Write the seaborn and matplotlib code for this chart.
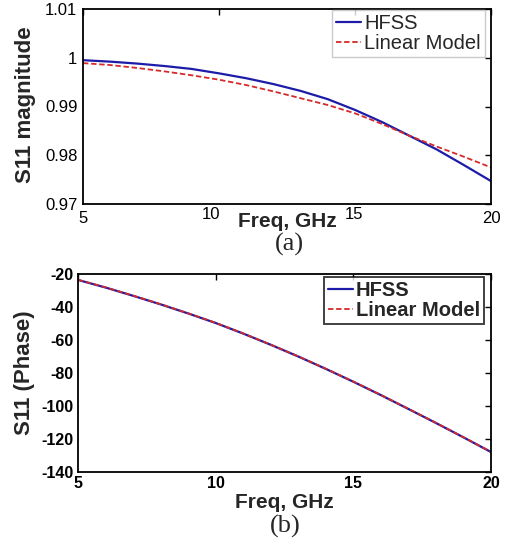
import matplotlib
matplotlib.use("Agg")
import matplotlib.pyplot as plt
import matplotlib.transforms as mtransforms
import seaborn as sns
import pandas as pd

# ---- data ----
freq_ghz = [5, 6, 7, 8, 9, 10, 11, 12, 13, 14, 15, 16, 17, 18, 19, 20]
mag_hfss = [0.9995, 0.9992, 0.9988, 0.9983, 0.9977, 0.9968, 0.9958, 0.9946,
            0.9932, 0.9915, 0.9893, 0.9868, 0.9840, 0.9812, 0.9780, 0.9747]
mag_linear = [0.9989, 0.9985, 0.9979, 0.9972, 0.9964, 0.9955, 0.9944, 0.9931,
              0.9917, 0.9903, 0.9886, 0.9864, 0.9840, 0.9818, 0.9797, 0.9775]
phase_hfss = [-23.6, -28.2, -33.2, -38.4, -43.9, -49.7, -56.1, -62.9,
              -70.0, -77.5, -85.3, -93.4, -101.8, -110.3, -119.0, -127.9]
phase_linear = [-23.5, -28.1, -33.1, -38.3, -43.8, -49.6, -56.0, -62.8,
                -69.9, -77.4, -85.2, -93.3, -101.7, -110.2, -118.9, -127.8]
series_names = ["HFSS", "Linear Model"]
mag_ticks = [0.97, 0.98, 0.99, 1.00, 1.01]
mag_ticklabels = ["0.97", "0.98", "0.99", "1", "1.01"]
phase_ticks = [-140, -120, -100, -80, -60, -40, -20]
freq_ticks = [5, 10, 15, 20]

df_mag = pd.DataFrame({
    "freq": freq_ghz * 2,
    "value": mag_hfss + mag_linear,
    "series": [series_names[0]] * len(freq_ghz) + [series_names[1]] * len(freq_ghz),
})
df_phase = pd.DataFrame({
    "freq": freq_ghz * 2,
    "value": phase_hfss + phase_linear,
    "series": [series_names[0]] * len(freq_ghz) + [series_names[1]] * len(freq_ghz),
})

sns.set_style("white")
plt.rcParams["font.family"] = ["Liberation Sans", "DejaVu Sans"]

palette = {"HFSS": "#1c1ca8", "Linear Model": "#d42a2a"}
dashes = {"HFSS": "", "Linear Model": (3, 1.5)}
sizes = {"HFSS": 1.6, "Linear Model": 1.3}

fig = plt.figure(figsize=(5.05, 5.5), dpi=100)
ax1 = fig.add_axes([83 / 505, 1 - 204 / 550, 408 / 505, 195 / 550])
ax2 = fig.add_axes([78 / 505, 1 - 472 / 550, 413 / 505, 198 / 550])


def draw(ax, df):
    sns.lineplot(data=df, x="freq", y="value", hue="series", style="series",
                 dashes=dashes, palette=palette, size="series", sizes=sizes,
                 ax=ax, legend=True)


draw(ax1, df_mag)
draw(ax2, df_phase)

for ax in (ax1, ax2):
    for s in ax.spines.values():
        s.set_visible(True)
        s.set_color("black")
        s.set_linewidth(1.3)
    ax.tick_params(direction="in", length=4, width=1, top=True, right=True,
                   colors="black")
    ax.set_xlim(5, 20)
    ax.set_xticks(freq_ticks)

# ---- top panel ----
ax1.set_ylim(0.97, 1.01)
ax1.set_yticks(mag_ticks)
ax1.set_yticklabels(mag_ticklabels, fontsize=12)
ax1.set_xticklabels([str(t) for t in freq_ticks], fontsize=12)
ax1.tick_params(axis="x", pad=5)
ax1.tick_params(axis="y", pad=4)
ax1.set_xlabel("Freq, GHz", fontsize=15, fontweight="bold")
ax1.xaxis.set_label_coords(0.5, -0.04)
ax1.set_ylabel("S11 magnitude", fontsize=16, fontweight="bold")
ax1.yaxis.set_label_coords(-0.115, 0.51)
# shift the "10" and "15" labels like in the reference
xl = ax1.get_xticklabels()
xl[1].set_transform(xl[1].get_transform() +
                    mtransforms.ScaledTranslation(-8 / 100, 4 / 100, fig.dpi_scale_trans))
xl[2].set_transform(xl[2].get_transform() +
                    mtransforms.ScaledTranslation(-1 / 100, 4 / 100, fig.dpi_scale_trans))
h, l = ax1.get_legend_handles_labels()
leg1 = ax1.legend(h, l, loc="upper right", bbox_to_anchor=(0.985, 0.995),
                  prop={"size": 14.5}, frameon=True, fancybox=False,
                  handlelength=1.25, handletextpad=0.15, borderpad=0.2,
                  labelspacing=0.05, borderaxespad=0)
leg1.get_frame().set_edgecolor("#bdbdbd")
leg1.get_frame().set_linewidth(1.0)
fig.text(289 / 505, 1 - 244 / 550, "(a)", fontsize=19, ha="center", va="center",
         family=["Liberation Serif", "DejaVu Serif"])

# ---- bottom panel ----
ax2.set_ylim(-140, -20)
ax2.set_yticks(phase_ticks)
ax2.set_yticklabels([str(t) for t in phase_ticks], fontsize=11.5, fontweight="bold")
ax2.set_xticklabels([str(t) for t in freq_ticks], fontsize=11.5, fontweight="bold")
ax2.tick_params(axis="x", pad=3)
ax2.tick_params(axis="y", pad=3)
ax2.set_xlabel("Freq, GHz", fontsize=15, fontweight="bold")
ax2.xaxis.set_label_coords(0.5, -0.108)
ax2.set_ylabel("S11 (Phase)", fontsize=16, fontweight="bold")
ax2.yaxis.set_label_coords(-0.105, 0.5)
h, l = ax2.get_legend_handles_labels()
leg2 = ax2.legend(h, l, loc="upper right", bbox_to_anchor=(0.983, 0.985),
                  prop={"size": 14.5, "weight": "bold"}, frameon=True,
                  fancybox=False, handlelength=1.25, handletextpad=0.15,
                  borderpad=0.2, labelspacing=0.05, borderaxespad=0)
leg2.get_frame().set_edgecolor("black")
leg2.get_frame().set_linewidth(1.3)
fig.text(285 / 505, 1 - 526 / 550, "(b)", fontsize=19, ha="center", va="center",
         family=["Liberation Serif", "DejaVu Serif"])

fig.savefig("out.png", dpi=100)
